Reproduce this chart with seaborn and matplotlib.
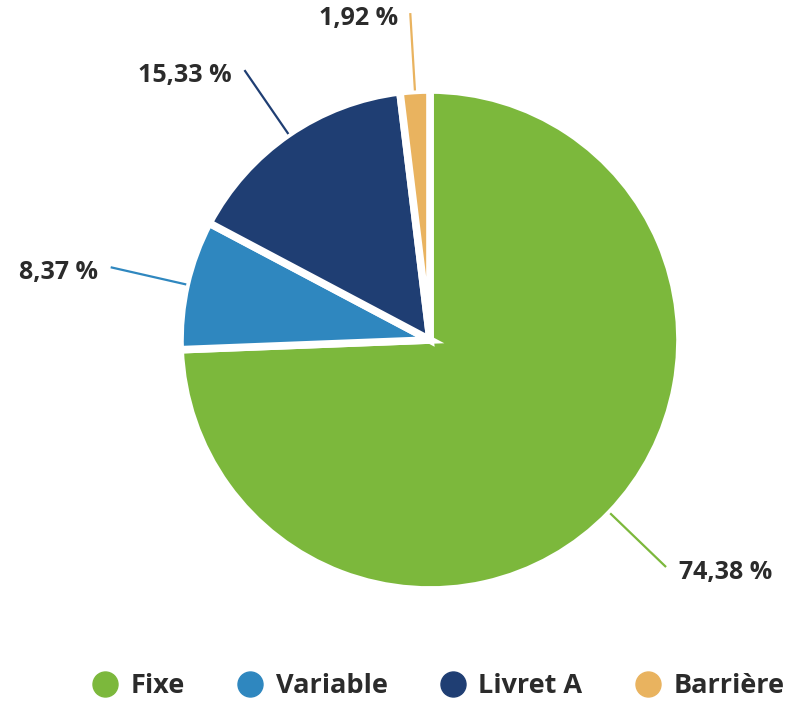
import numpy as np
import matplotlib
matplotlib.use("Agg")
import matplotlib.pyplot as plt
from matplotlib.lines import Line2D
import seaborn as sns

categories = ["Fixe", "Variable", "Livret A", "Barrière"]
values = [74.38, 8.37, 15.33, 1.92]
labels = ["74,38 %", "8,37 %", "15,33 %", "1,92 %"]
colors = ["#7cb83c", "#2f87bf", "#1f3e73", "#e9b35f"]

sns.set_theme(style="white")
plt.rcParams["font.family"] = ["Open Sans", "DejaVu Sans"]

W, H = 789, 702
fig = plt.figure(figsize=(W / 100, H / 100), dpi=100)
cx, cy, r = 430, 340, 250
ax = fig.add_axes([(cx - r) / W, (H - cy - r) / H, 2 * r / W, 2 * r / H])

wedges, _ = ax.pie(values, colors=colors, startangle=90, counterclock=False,
                   radius=1.0, wedgeprops=dict(edgecolor="white", linewidth=5.5))
ax.set_xlim(-1, 1)
ax.set_ylim(-1, 1)
ax.set_aspect("equal")
ax.axis("off")
for w in wedges:
    w.set_clip_on(False)

textcol = "#2b2b2b"
for w, lab, col in zip(wedges, labels, colors):
    ang = np.deg2rad((w.theta1 + w.theta2) / 2)
    c, s = np.cos(ang), np.sin(ang)
    ax.plot([1.0 * c, 1.31 * c], [1.0 * s, 1.31 * s], color=col, lw=1.6,
            clip_on=False, solid_capstyle="butt")
    ha = "left" if c > 0 else "right"
    dx = 0.05 if c > 0 else -0.05
    dy = -0.02
    ax.text(1.31 * c + dx, 1.31 * s + dy, lab, ha=ha, va="center",
            fontsize=18, fontweight="bold", color=textcol)

handles = [Line2D([0], [0], marker="o", linestyle="", markersize=18,
                  markerfacecolor=c, markeredgecolor=c) for c in colors]
leg = fig.legend(handles, categories, loc="center", bbox_to_anchor=(438 / W, 1 - 686 / H),
                 ncol=4, frameon=False, handletextpad=0.45, columnspacing=1.9,
                 prop=dict(family="Open Sans", weight="bold", size=19.5), handlelength=1.0)
for t in leg.get_texts():
    t.set_color(textcol)

fig.savefig("out.png", dpi=100, facecolor="white")
